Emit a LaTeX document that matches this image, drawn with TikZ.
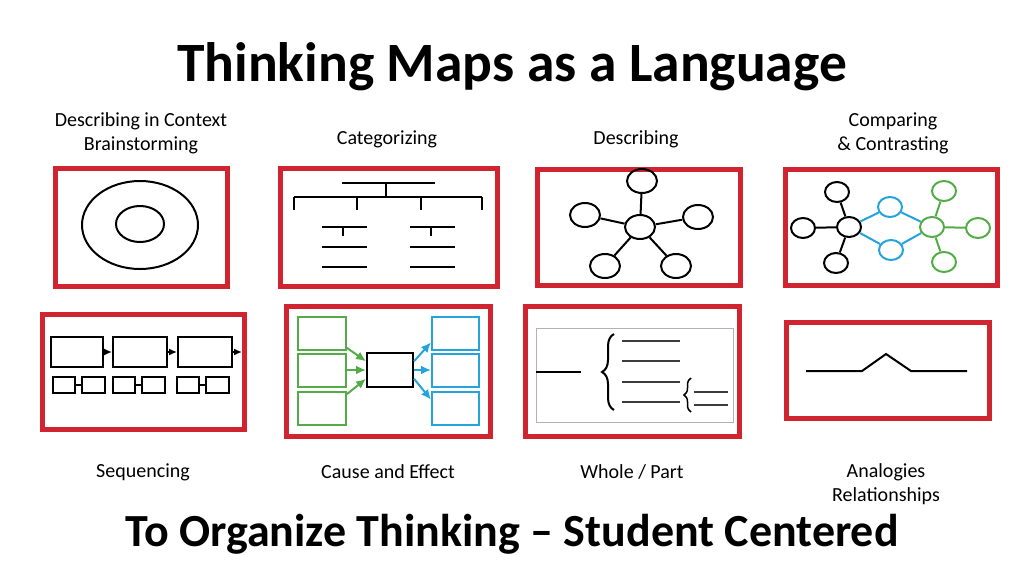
\documentclass[tikz,border=0pt]{standalone}
\usepackage{fontspec}
\setmainfont{Carlito}
\usepackage{tikz}
\usetikzlibrary{shapes.geometric,arrows.meta,decorations.pathreplacing}
\definecolor{R}{RGB}{208,36,48}
\definecolor{G}{RGB}{84,172,72}
\definecolor{B}{RGB}{36,164,218}
\definecolor{K}{RGB}{60,60,60}
\newcommand{\drawframe}{\draw[R,line width=5pt]}
\newcommand{\drawthick}{\draw[line width=2pt]}
\newcommand{\maplabel}[4]{\node[maptext] (#1) at (#3,#4) {#2};}
\tikzset{
  maptext/.style={align=center,font=\fontsize{20}{24}\selectfont},
  bubble/.style={ellipse,draw,line width=2pt,minimum width=30pt,minimum height=24pt,inner sep=0pt},
  dot/.style={ellipse,draw,line width=2pt,minimum width=24pt,minimum height=20pt,inner sep=0pt},
  boxed/.style={draw,line width=2pt,inner sep=0pt},
  arr/.style={line width=2pt,-{Latex[length=10pt,width=9pt]}},
  seqarr/.style={line width=1.5pt,-{Latex[length=8pt,width=7pt]}}
}
\begin{document}
\begin{tikzpicture}[x=1pt,y=-1pt]
\useasboundingbox (0,0) rectangle (1024,576);
\node[font=\fontsize{55.5}{60}\selectfont\bfseries] (title) at (512,67) {Thinking Maps as a Language};
\node[font=\fontsize{46}{52}\selectfont\bfseries] (subtitle) at (512,534) {To Organize Thinking -- Student Centered};
\maplabel{context}{Describing in Context\\Brainstorming}{141}{133}
\maplabel{categ}{Categorizing}{387}{139}
\maplabel{describ}{Describing}{636}{139}
\maplabel{compare}{Comparing\\\& Contrasting}{893}{133}
\maplabel{sequ}{Sequencing}{143}{472}
\maplabel{cause}{Cause and Effect}{388}{472}
\maplabel{whole}{Whole / Part}{632}{472}
\maplabel{analog}{Analogies\\Relationships}{886}{484}
% frames
\drawframe (55,168) rectangle (227,286);
\drawframe (280,168) rectangle (497,286);
\drawframe (537,169) rectangle (740,285);
\drawframe (785,169) rectangle (997,285);
\drawframe (42,314) rectangle (244,429);
\drawframe (286,306) rectangle (490,436);
\drawframe (525,306) rectangle (739,436);
\drawframe (786,322) rectangle (989,418);
% circle map
\drawthick (140,225) ellipse [x radius=58, y radius=44];
\drawthick (140,224) ellipse [x radius=24, y radius=18];
% tree map
\drawthick (342,183)--(435,183);
\drawthick (386,183)--(386,197);
\drawthick (294,197)--(482,197);
\foreach \x in {294,357,421,482}{
  \drawthick (\x,197)--(\x,210);
}
\foreach \x in {322,410}{
  \foreach \y in {227,247,267}{
    \drawthick (\x,\y)--++(45,0);
  }
  \drawthick (\x+21,227)--++(0,9);
}
% bubble map
\node[bubble] (hub) at (640,227) {};
\node[bubble] (b1) at (642,181) {};
\node[bubble] (b2) at (585,215) {};
\node[bubble] (b3) at (698,217) {};
\node[bubble] (b4) at (605,266) {};
\node[bubble] (b5) at (676,266) {};
\foreach \b in {b1,b2,b3,b4,b5}{
  \drawthick (hub)--(\b);
}
% double bubble map
\node[dot] (left) at (849,227) {};
\node[dot] (l1) at (837,192) {};
\node[dot] (l2) at (803,228) {};
\node[dot] (l3) at (836,263) {};
\node[dot,B] (same1) at (890,207) {};
\node[dot,B] (same2) at (891,250) {};
\node[dot,G] (right) at (932,227) {};
\node[dot,G] (r1) at (944,191) {};
\node[dot,G] (r2) at (978,228) {};
\node[dot,G] (r3) at (944,262) {};
\foreach \b in {l1,l2,l3}{
  \drawthick (left)--(\b);
}
\foreach \b in {r1,r2,r3}{
  \drawthick[G] (right)--(\b);
}
\foreach \b in {same1,same2}{
  \drawthick[B] (left)--(\b)--(right);
}
% flow map
\node[boxed,minimum width=52pt,minimum height=30pt] (s1) at (77,352) {};
\node[boxed,minimum width=54pt,minimum height=30pt] (s2) at (140,352) {};
\node[boxed,minimum width=54pt,minimum height=30pt] (s3) at (205,352) {};
\coordinate (s4) at (242,352);
\draw[seqarr] (s1)--(s2);
\draw[seqarr] (s2)--(s3);
\draw[seqarr] (s3)--(s4);
\foreach \x/\n in {53/1,113/2,177/3}{
  \node[boxed,minimum width=22pt,minimum height=16pt] (p\n) at (\x+11,385) {};
  \node[boxed,minimum width=23pt,minimum height=16pt] (q\n) at (\x+40.5,385) {};
  \drawthick (p\n)--(q\n);
}
% multi-flow map
\node[boxed,G,minimum width=48pt,minimum height=33pt] (g1) at (322,333.5) {};
\node[boxed,G,minimum width=48pt,minimum height=33pt] (g2) at (322,370) {};
\node[boxed,G,minimum width=48pt,minimum height=33pt] (g3) at (322,408.5) {};
\node[boxed,minimum width=46pt,minimum height=34pt] (event) at (390,370) {};
\node[boxed,B,minimum width=47pt,minimum height=33pt] (e1) at (455.5,333.5) {};
\node[boxed,B,minimum width=47pt,minimum height=33pt] (e2) at (455.5,370) {};
\node[boxed,B,minimum width=47pt,minimum height=33pt] (e3) at (455.5,408.5) {};
\draw[arr,G] (g1.-30)--(event.160);
\draw[arr,G] (g2)--(event);
\draw[arr,G] (g3.30)--(event.200);
\draw[arr,B] (event.20)--(e1.-160);
\draw[arr,B] (event)--(e2);
\draw[arr,B] (event.-20)--(e3.160);
% brace map
\draw[gray!60] (536,328) rectangle (733,422);
\drawthick (536,372)--(581,372);
\draw[line width=2pt,decorate,decoration={brace,amplitude=12pt}] (614,410)--(614,334);
\foreach \y in {341,361,382,402}{
  \draw[K,line width=2.5pt] (622,\y)--(680,\y);
}
\draw[line width=1.5pt,decorate,decoration={brace,amplitude=7pt}] (691,412)--(691,378);
\foreach \y in {392,405}{
  \draw[K,line width=2.5pt] (694,\y)--(728,\y);
}
% bridge map
\drawthick (806,371)--(862,371)--(886,354)--(911,371)--(967,371);
\end{tikzpicture}
\end{document}
